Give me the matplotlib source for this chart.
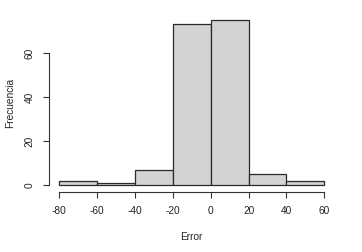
import matplotlib
matplotlib.use("Agg")
import matplotlib.pyplot as plt
import numpy as np

bin_edges = [-80, -60, -40, -20, 0, 20, 40, 60]
counts = [2, 1, 7, 73, 75, 5, 2]
x_ticks = [-80, -60, -40, -20, 0, 20, 40, 60]
y_ticks = [0, 20, 40, 60]
x_label = "Error"
y_label = "Frecuencia"

plt.rcParams['font.family'] = ['Liberation Sans', 'DejaVu Sans']

fig = plt.figure(figsize=(3.62, 2.52), dpi=100)
ax = fig.add_axes([0.1345, 0.2385, 0.7906, 0.7087])

lefts = np.array(bin_edges[:-1])
widths = np.diff(bin_edges)
ax.bar(lefts, counts, width=widths, align='edge', color='#D3D3D3',
       edgecolor='#2a2a2a', linewidth=0.9)

xr = bin_edges[-1] - bin_edges[0]
ax.set_xlim(bin_edges[0] - 0.04 * xr, bin_edges[-1] + 0.04 * xr)
ymax = max(counts)
ax.set_ylim(-0.04 * ymax, ymax * 1.04)

for s in ['top', 'right']:
    ax.spines[s].set_visible(False)
ax.spines['left'].set_bounds(y_ticks[0], y_ticks[-1])
ax.spines['bottom'].set_bounds(x_ticks[0], x_ticks[-1])
for s in ['left', 'bottom']:
    ax.spines[s].set_color('#333333')
    ax.spines[s].set_linewidth(0.8)

ax.set_xticks(x_ticks)
ax.set_xticklabels([str(v) for v in x_ticks])
ax.set_yticks(y_ticks)
ax.set_yticklabels([str(v) for v in y_ticks], rotation=90, va='center')
ax.tick_params(axis='both', direction='out', length=4.5, width=0.8,
               color='#333333', labelsize=7.3, labelcolor='#222222', pad=5.5)

ax.set_xlabel(x_label, fontsize=7.3, color='#222222')
ax.set_ylabel(y_label, fontsize=7.3, color='#222222', va='center')
ax.yaxis.set_label_coords(-0.135, 0.5)
ax.xaxis.set_label_coords(0.5, -0.225)

fig.savefig("out.png", dpi=100)
